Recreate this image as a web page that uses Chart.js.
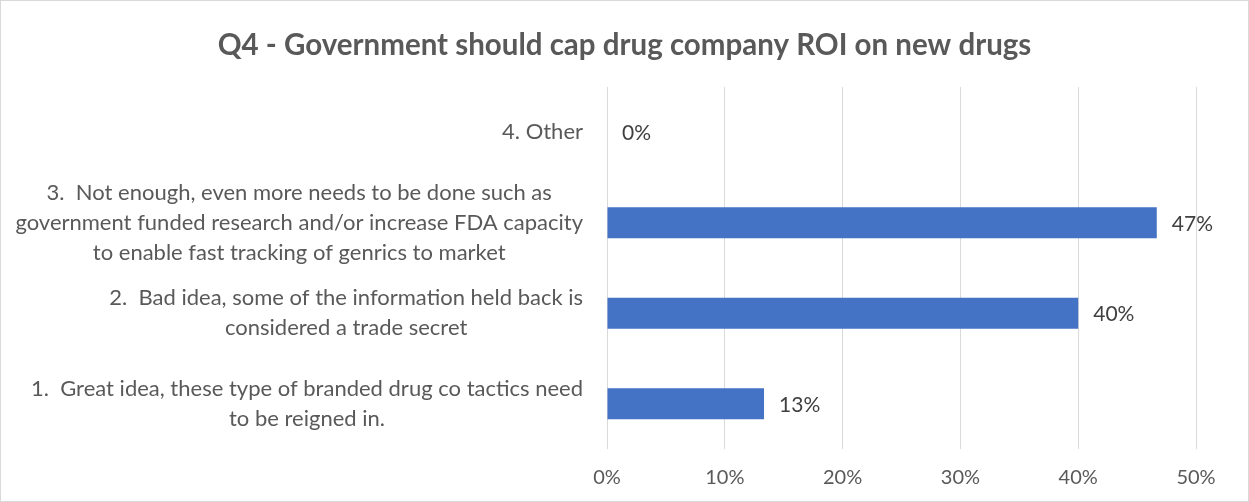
<!DOCTYPE html>
<html>
<head>
<meta charset="utf-8">
<script src="https://cdn.jsdelivr.net/npm/chart.js@4"></script>
<style>
  html, body { margin: 0; padding: 0; background: #fff; }
  #wrap { position: relative; width: 1249px; height: 502px; }
  canvas { display: block; }
</style>
</head>
<body>
<div id="wrap"><canvas id="c" width="1249" height="502"></canvas></div>
<script>
const chartTitle = 'Q4 - Government should cap drug company ROI on new drugs';
const categories = [
  ['4. Other'],
  ['3.  Not enough, even more needs to be done such as', 'government funded research and/or increase FDA capacity', 'to enable fast tracking of genrics to market'],
  ['2.  Bad idea, some of the information held back is', 'considered a trade secret'],
  ['1.  Great idea, these type of branded drug co tactics need', 'to be reigned in.']
];
const values = [0, 46.67, 40, 13.33];
const valueLabels = ['0%', '47%', '40%', '13%'];
const xTicks = [0, 10, 20, 30, 40, 50];

const FONT = 'Lato, "Open Sans", sans-serif';
const TEXT = '#595959';

const borderPlugin = {
  id: 'outerBorder',
  beforeDraw(chart) {
    const ctx = chart.ctx;
    ctx.save();
    ctx.fillStyle = '#fff';
    ctx.fillRect(0, 0, chart.width, chart.height);
    ctx.strokeStyle = '#d9d9d9';
    ctx.lineWidth = 1;
    ctx.strokeRect(0.5, 0.5, chart.width - 1, chart.height - 1);
    ctx.restore();
  }
};

const titlePlugin = {
  id: 'centeredTitle',
  afterDraw(chart) {
    const ctx = chart.ctx;
    ctx.save();
    ctx.font = 'bold 29.5px ' + FONT;
    ctx.fillStyle = TEXT;
    ctx.textAlign = 'center';
    ctx.textBaseline = 'middle';
    ctx.fillText(chartTitle, chart.width / 2, 45);
    ctx.restore();
  }
};

const catLabelPlugin = {
  id: 'catLabels',
  afterDraw(chart) {
    const ctx = chart.ctx;
    const ys = chart.scales.y;
    const right = chart.chartArea.left - 24;
    const lh = 30;
    ctx.save();
    ctx.font = '22px ' + FONT;
    ctx.fillStyle = TEXT;
    ctx.textBaseline = 'middle';
    ctx.textAlign = 'center';
    categories.forEach((lines, i) => {
      const cy = ys.getPixelForValue(i);
      const w = Math.max(...lines.map(l => ctx.measureText(l).width));
      const cx = right - w / 2;
      const y0 = cy - (lines.length - 1) * lh / 2;
      lines.forEach((l, k) => ctx.fillText(l, cx, y0 + k * lh));
    });
    ctx.restore();
  }
};

const valueLabelPlugin = {
  id: 'valueLabels',
  afterDatasetsDraw(chart) {
    const ctx = chart.ctx;
    const meta = chart.getDatasetMeta(0);
    ctx.save();
    ctx.font = '21px ' + FONT;
    ctx.fillStyle = '#404040';
    ctx.textBaseline = 'middle';
    ctx.textAlign = 'left';
    meta.data.forEach((bar, i) => {
      ctx.fillText(valueLabels[i], bar.x + 15, bar.y + 1);
    });
    ctx.restore();
  }
};

new Chart(document.getElementById('c'), {
  type: 'bar',
  data: {
    labels: categories,
    datasets: [{
      data: values,
      backgroundColor: '#4472c4',
      borderWidth: 0,
      barPercentage: 0.345,
      categoryPercentage: 1.0
    }]
  },
  options: {
    indexAxis: 'y',
    responsive: false,
    animation: false,
    devicePixelRatio: 1,
    layout: { padding: { left: 0, right: 53, top: 87, bottom: 0 } },
    plugins: {
      legend: { display: false },
      tooltip: { enabled: false },
      title: { display: false }
    },
    scales: {
      x: {
        min: 0,
        max: 50,
        afterBuildTicks(scale) { scale.ticks = xTicks.map(v => ({ value: v })); },
        afterFit(scale) { scale.height = 53; },
        ticks: {
          callback: v => v + '%',
          color: TEXT,
          font: { family: FONT, size: 20 },
          padding: 17,
          maxRotation: 0
        },
        grid: { color: '#d9d9d9', lineWidth: 1, drawTicks: false },
        border: { display: false }
      },
      y: {
        afterFit(scale) { scale.width = 607; },
        ticks: { display: false },
        grid: { display: false },
        border: { display: false }
      }
    }
  },
  plugins: [borderPlugin, titlePlugin, catLabelPlugin, valueLabelPlugin]
});
</script>
</body>
</html>
